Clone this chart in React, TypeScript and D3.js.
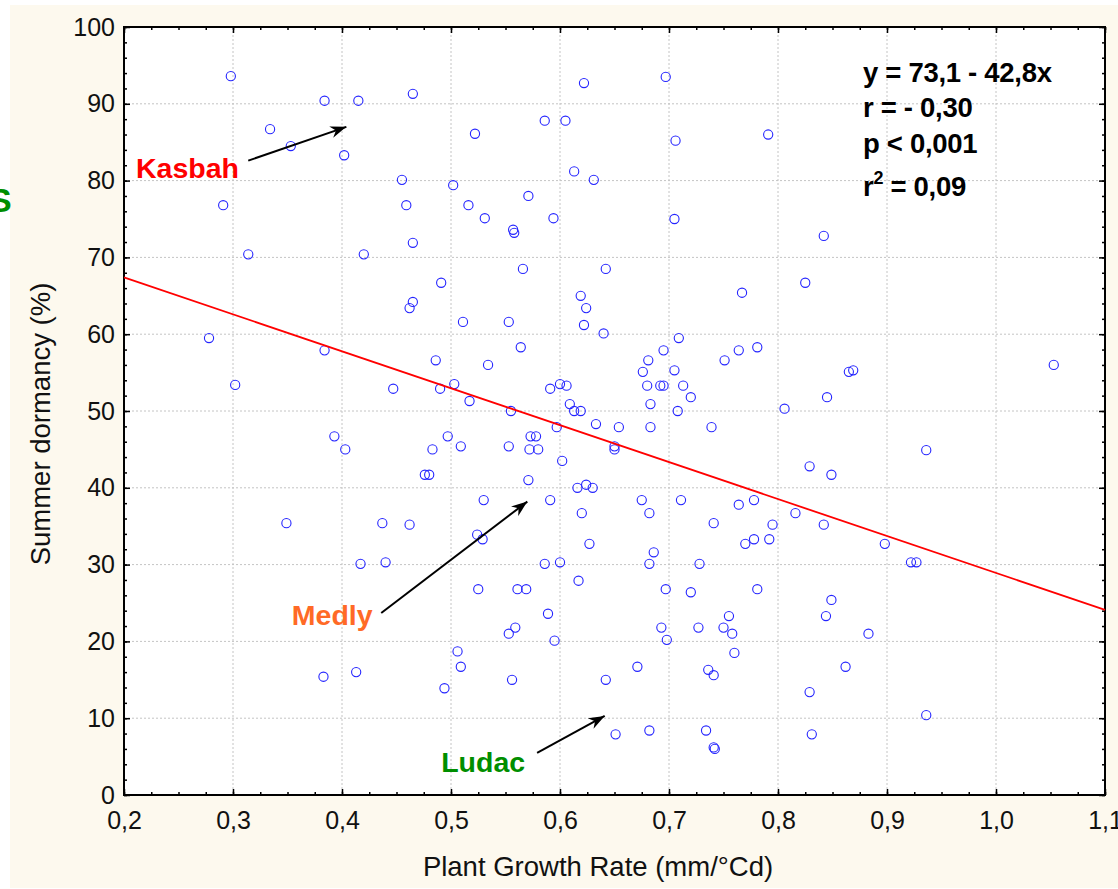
import React, { useEffect, useRef } from 'react';
import * as d3 from 'd3';

// Plant growth rate (mm/°Cd) per plant
const growthRate = [
  0.298, 0.384, 0.415, 0.465, 0.334, 0.353, 0.402, 0.291, 0.314, 0.455,
  0.459, 0.502, 0.516, 0.465, 0.420, 0.531, 0.557, 0.558, 0.522, 0.571,
  0.586, 0.605, 0.622, 0.613, 0.631, 0.594, 0.566, 0.491, 0.619, 0.642,
  0.697, 0.706, 0.791, 0.705, 0.842, 0.767, 0.825, 0.465, 0.278, 0.302,
  0.384, 0.462, 0.511, 0.486, 0.534, 0.447, 0.490, 0.503, 0.517, 0.393,
  0.403, 0.497, 0.509, 0.483, 0.476, 0.480, 0.530, 0.349, 0.437, 0.462,
  0.524, 0.529, 0.417, 0.440, 0.525, 0.553, 0.564, 0.624, 0.622, 0.640,
  0.709, 0.695, 0.681, 0.676, 0.680, 0.692, 0.695, 0.705, 0.713, 0.720,
  0.683, 0.708, 0.683, 0.739, 0.751, 0.764, 0.781, 0.806, 0.845, 0.865,
  0.869, 0.591, 0.600, 0.606, 0.609, 0.613, 0.619, 0.555, 0.633, 0.654,
  0.597, 0.553, 0.573, 0.578, 0.572, 0.580, 0.650, 0.650, 0.602, 0.571,
  0.616, 0.624, 0.630, 0.591, 0.620, 0.675, 0.682, 0.711, 0.764, 0.778,
  0.829, 0.849, 0.898, 0.816, 0.842, 0.795, 0.741, 0.778, 0.770, 0.792,
  0.627, 0.686, 0.682, 0.728, 0.586, 0.600, 0.617, 0.561, 0.569, 0.697,
  0.720, 0.781, 0.849, 1.053, 0.936, 0.922, 0.927, 0.383, 0.413, 0.494,
  0.506, 0.509, 0.556, 0.553, 0.559, 0.589, 0.595, 0.642, 0.844, 0.883,
  0.862, 0.829, 0.936, 0.831, 0.693, 0.698, 0.727, 0.750, 0.755, 0.758,
  0.760, 0.671, 0.736, 0.741, 0.651, 0.682, 0.734, 0.741, 0.742
];

// Summer dormancy (%) per plant
const dormancy = [
  93.6, 90.4, 90.4, 91.3, 86.7, 84.5, 83.3, 76.8, 70.4, 80.1,
  76.8, 79.4, 76.8, 71.9, 70.4, 75.1, 73.6, 73.2, 86.1, 78.0,
  87.8, 87.8, 92.7, 81.2, 80.1, 75.1, 68.5, 66.7, 65.0, 68.5,
  93.5, 85.2, 86.0, 75.0, 72.8, 65.4, 66.7, 64.2, 59.5, 53.4,
  57.9, 63.4, 61.6, 56.6, 56.0, 52.9, 52.9, 53.5, 51.3, 46.7,
  45.0, 46.7, 45.4, 45.0, 41.7, 41.7, 38.4, 35.4, 35.4, 35.2,
  33.9, 33.3, 30.1, 30.3, 26.8, 61.6, 58.3, 63.4, 61.2, 60.1,
  59.5, 57.9, 56.6, 55.1, 53.3, 53.3, 53.3, 55.3, 53.3, 51.8,
  50.9, 50.0, 47.9, 47.9, 56.6, 57.9, 58.3, 50.3, 51.8, 55.1,
  55.3, 52.9, 53.5, 53.3, 50.9, 50.0, 50.0, 50.0, 48.3, 47.9,
  47.9, 45.4, 46.7, 46.7, 45.0, 45.0, 45.4, 45.0, 43.5, 41.0,
  40.0, 40.4, 40.0, 38.4, 36.7, 38.4, 36.7, 38.4, 37.8, 38.4,
  42.8, 41.7, 32.7, 36.7, 35.2, 35.2, 35.4, 33.3, 32.7, 33.3,
  32.7, 31.6, 30.1, 30.1, 30.1, 30.3, 27.9, 26.8, 26.8, 26.8,
  26.4, 26.8, 25.4, 56.0, 44.9, 30.3, 30.3, 15.4, 16.0, 13.9,
  18.7, 16.7, 15.0, 21.0, 21.8, 23.6, 20.1, 15.0, 23.3, 21.0,
  16.7, 13.4, 10.4, 7.9, 21.8, 20.2, 21.8, 21.8, 23.3, 21.0,
  18.5, 16.7, 16.3, 15.6, 7.9, 8.4, 8.4, 6.2, 6.0
];

// fitted line as drawn (x, y) at the two ends of the x range
const fitX = [0.2, 1.1];
const fitY = [67.4, 24.1];

const xTicks = [0.2, 0.3, 0.4, 0.5, 0.6, 0.7, 0.8, 0.9, 1.0, 1.1];
const xTickLabels = ['0,2', '0,3', '0,4', '0,5', '0,6', '0,7', '0,8', '0,9', '1,0', '1,1'];
const yTicks = [0, 10, 20, 30, 40, 50, 60, 70, 80, 90, 100];
const yTickLabels = ['0', '10', '20', '30', '40', '50', '60', '70', '80', '90', '100'];

// cultivar labels with arrows (data units)
const cultivars = ['Kasbah', 'Medly', 'Ludac'];
const cultivarColors = ['#ff0000', '#ff6a26', '#008e00'];
const labelX = [0.211, 0.354, 0.491];
const labelY = [80.3, 22.1, 3.0];
const arrowFromX = [0.314, 0.436, 0.579];
const arrowFromY = [82.6, 23.7, 5.5];
const arrowToX = [0.404, 0.570, 0.641];
const arrowToY = [87.0, 38.2, 10.3];

const statLines = ['y = 73,1 - 42,8x', 'r = - 0,30', 'p < 0,001', '= 0,09'];
const statY = [92.8, 88.3, 83.6, 78.0];

const W = 1118;
const H = 889;
const font = '"Liberation Sans", Arial, sans-serif';

const App = () => {
  const chartRef = useRef(null);

  useEffect(() => {
    d3.select(chartRef.current).select('svg').remove();

    const left = 124, right = 1105, top = 27, bottom = 795;
    const x = d3.scaleLinear().domain([0.2, 1.1]).range([left, right]);
    const y = d3.scaleLinear().domain([0, 100]).range([bottom, top]);

    const svg = d3.select(chartRef.current)
      .append('svg')
      .attr('width', W)
      .attr('height', H)
      .style('display', 'block')
      .style('font-family', font);

    svg.append('rect').attr('width', W).attr('height', H).attr('fill', '#ffffff');
    svg.append('rect').attr('x', 10).attr('y', 5).attr('width', W - 10).attr('height', H - 6).attr('fill', '#fdf9ee');

    // cut-off letter at left edge
    svg.append('text')
      .attr('x', -11).attr('y', 212)
      .style('font-size', '34px').style('font-weight', 'bold')
      .style('fill', '#008e00')
      .text('S');

    svg.append('rect')
      .attr('x', left).attr('y', top)
      .attr('width', right - left).attr('height', bottom - top)
      .attr('fill', '#ffffff');

    // grid
    const grid = svg.append('g')
      .attr('stroke', '#c4c4c4')
      .attr('stroke-width', 1)
      .attr('stroke-dasharray', '2,2');
    grid.selectAll('line.gx')
      .data(xTicks.slice(1, -1))
      .enter().append('line')
      .attr('x1', d => x(d)).attr('x2', d => x(d))
      .attr('y1', top).attr('y2', bottom);
    grid.selectAll('line.gy')
      .data(yTicks.slice(1, -1))
      .enter().append('line')
      .attr('y1', d => y(d)).attr('y2', d => y(d))
      .attr('x1', left).attr('x2', right);

    // minor ticks
    const xMinor = d3.range(0, 37).map(i => 0.2 + i * 0.025);
    const yMinor = d3.range(0, 51).map(i => i * 2);

    const styleAxis = g => {
      g.select('.domain').remove();
      g.selectAll('line').attr('stroke', '#000').attr('stroke-width', 1.5);
      g.selectAll('text')
        .style('font-size', '25px')
        .style('font-family', font)
        .attr('fill', '#111');
    };

    const addAxis = (axis, tx, ty) => {
      svg.append('g').attr('transform', `translate(${tx},${ty})`).call(axis).call(styleAxis);
    };

    addAxis(d3.axisBottom(x).tickValues(xMinor).tickSize(-3).tickSizeOuter(0).tickFormat(() => ''), 0, bottom);
    addAxis(d3.axisTop(x).tickValues(xMinor).tickSize(-3).tickSizeOuter(0).tickFormat(() => ''), 0, top);
    addAxis(d3.axisLeft(y).tickValues(yMinor).tickSize(-3).tickSizeOuter(0).tickFormat(() => ''), left, 0);
    addAxis(d3.axisRight(y).tickValues(yMinor).tickSize(-3).tickSizeOuter(0).tickFormat(() => ''), right, 0);

    addAxis(d3.axisBottom(x).tickValues(xTicks).tickSize(-6).tickSizeOuter(0).tickPadding(16)
      .tickFormat((d, i) => xTickLabels[i]), 0, bottom);
    addAxis(d3.axisTop(x).tickValues(xTicks).tickSize(-6).tickSizeOuter(0).tickFormat(() => ''), 0, top);
    addAxis(d3.axisLeft(y).tickValues(yTicks).tickSize(-6).tickSizeOuter(0).tickPadding(9)
      .tickFormat((d, i) => yTickLabels[i]), left, 0);
    addAxis(d3.axisRight(y).tickValues(yTicks).tickSize(-6).tickSizeOuter(0).tickFormat(() => ''), right, 0);

    // frame
    svg.append('rect')
      .attr('x', left).attr('y', top)
      .attr('width', right - left).attr('height', bottom - top)
      .attr('fill', 'none').attr('stroke', '#000').attr('stroke-width', 2);

    // points
    svg.append('g')
      .selectAll('circle')
      .data(growthRate.map((g, i) => [g, dormancy[i]]))
      .enter().append('circle')
      .attr('cx', d => x(d[0]))
      .attr('cy', d => y(d[1]))
      .attr('r', 4.6)
      .attr('fill', 'none')
      .attr('stroke', '#2424ff')
      .attr('stroke-width', 1.1);

    // fitted line
    svg.append('line')
      .attr('x1', x(fitX[0])).attr('y1', y(fitY[0]))
      .attr('x2', x(fitX[1])).attr('y2', y(fitY[1]))
      .attr('stroke', '#ff0000').attr('stroke-width', 1.8);

    // arrows
    svg.append('defs').append('marker')
      .attr('id', 'arrowhead')
      .attr('viewBox', '-16 -7 18 14')
      .attr('markerWidth', 18).attr('markerHeight', 14)
      .attr('markerUnits', 'userSpaceOnUse')
      .attr('refX', 0).attr('refY', 0)
      .attr('orient', 'auto')
      .append('path')
      .attr('d', 'M0,0 L-16,-6 L-11,0 L-16,6 Z')
      .attr('fill', '#000');

    cultivars.forEach((c, i) => {
      svg.append('line')
        .attr('x1', x(arrowFromX[i])).attr('y1', y(arrowFromY[i]))
        .attr('x2', x(arrowToX[i])).attr('y2', y(arrowToY[i]))
        .attr('stroke', '#000').attr('stroke-width', 2)
        .attr('marker-end', 'url(#arrowhead)');
      svg.append('text')
        .attr('x', x(labelX[i])).attr('y', y(labelY[i]))
        .style('font-size', '28.5px').style('font-weight', 'bold')
        .style('fill', cultivarColors[i])
        .text(c);
    });

    // regression stats
    const stats = svg.append('g')
      .style('font-size', '27.5px').style('font-weight', 'bold').style('fill', '#000');
    statLines.forEach((s, i) => {
      const t = stats.append('text')
        .attr('x', x(0.878)).attr('y', y(statY[i]))
        .attr('letter-spacing', '-0.3');
      if (i === 3) {
        t.append('tspan').text('r');
        t.append('tspan').attr('dy', -12).style('font-size', '18px').text('2');
        t.append('tspan').attr('dy', 12).text(' ' + s);
      } else {
        t.text(s);
      }
    });

    // axis titles
    svg.append('text')
      .attr('x', 598).attr('y', 876)
      .attr('text-anchor', 'middle')
      .style('font-size', '27.5px').style('fill', '#111')
      .text('Plant Growth Rate (mm/°Cd)');
    svg.append('text')
      .attr('transform', 'translate(50, 424) rotate(-90)')
      .attr('text-anchor', 'middle')
      .style('font-size', '27.5px').style('fill', '#111')
      .text('Summer dormancy (%)');
  }, []);

  return (
    <div ref={chartRef} style={{ position: 'absolute', left: 0, top: 0 }}></div>
  );
};

export default App;
